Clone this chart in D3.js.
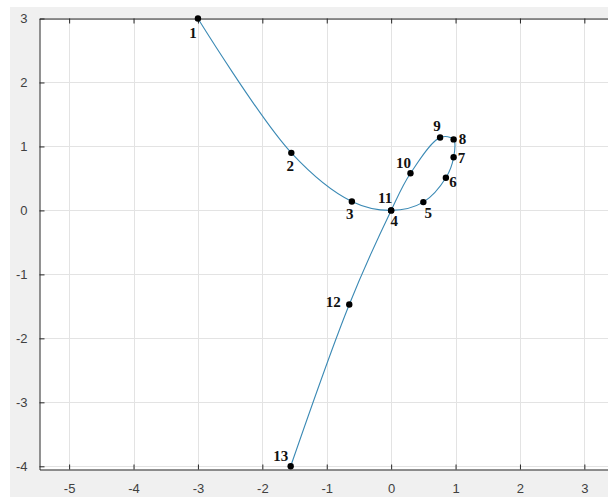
<!DOCTYPE html>
<html>
<head>
<meta charset="utf-8">
<script src="https://cdn.jsdelivr.net/npm/d3@7"></script>
<style>
  body { margin: 0; background: #ffffff; }
</style>
</head>
<body>
<svg width="608" height="501"></svg>
<script>
// point data
let pointIds = [1, 2, 3, 4, 5, 6, 7, 8, 9, 10, 11, 12, 13]
let xValues = [-3, -1.55, -0.61, 0, 0.5, 0.85, 0.97, 0.97, 0.76, 0.30, 0, -0.65, -1.56]
let yValues = [3, 0.90, 0.14, 0, 0.13, 0.51, 0.83, 1.11, 1.14, 0.58, 0, -1.47, -4.0]
let xTicks = [-5, -4, -3, -2, -1, 0, 1, 2, 3]
let yTicks = [-4, -3, -2, -1, 0, 1, 2, 3]

// where each number sits next to its dot (px)
let labelOffsets = [[-5, 14], [-1, 13], [-2, 13], [3, 11], [5, 11], [7, 4], [8, 1], [9, 0],
                    [-3, -11], [-7, -10], [-6, -12], [-16, -2], [-10, -10]]

var svg = d3.select("svg")
var box = {left: 39.5, top: 18.5, bottom: 469.5, right: 623}

// grey figure background (the screenshot has a thin white border left and top)
svg.append("rect").attr("x", 10).attr("y", 7).attr("width", 598).attr("height", 490).attr("fill", "#f0f0f0")
svg.append("rect").attr("x", box.left).attr("y", box.top)
    .attr("width", box.right - box.left).attr("height", box.bottom - box.top).attr("fill", "#ffffff")

var xScale = d3.scaleLinear().domain([-5.46, 3.6]).range([box.left, box.right])
var yScale = d3.scaleLinear().domain([-4.05, 3]).range([box.bottom, box.top])

// gridlines
var grid = svg.append("g").attr("id", "grid")
grid.selectAll("line.gx").data(xTicks).join("line").attr("class", "gx")
    .attr("x1", d => Math.round(xScale(d)) + 0.5).attr("x2", d => Math.round(xScale(d)) + 0.5)
    .attr("y1", box.top).attr("y2", box.bottom)
    .attr("stroke", "#e3e3e3").attr("stroke-width", 1)
grid.selectAll("line.gy").data(yTicks).join("line").attr("class", "gy")
    .attr("y1", d => Math.round(yScale(d)) + 0.5).attr("y2", d => Math.round(yScale(d)) + 0.5)
    .attr("x1", box.left).attr("x2", box.right)
    .attr("stroke", "#e3e3e3").attr("stroke-width", 1)

// axes, matlab style: ticks inward, box on, plain hyphen minus
var fmt = d => String(d)
var xAxisB = d3.axisBottom(xScale).tickValues(xTicks).tickFormat(fmt).tickSizeInner(-5).tickSizeOuter(0).tickPadding(14)
var xAxisT = d3.axisTop(xScale).tickValues(xTicks).tickSizeInner(-5).tickSizeOuter(0).tickFormat("")
var yAxisL = d3.axisLeft(yScale).tickValues(yTicks).tickFormat(fmt).tickSizeInner(-5).tickSizeOuter(0).tickPadding(12)

svg.append("g").attr("id", "xaxis").attr("transform", "translate(0," + box.bottom + ")").call(xAxisB)
svg.append("g").attr("id", "xaxistop").attr("transform", "translate(0," + box.top + ")").call(xAxisT)
svg.append("g").attr("id", "yaxis").attr("transform", "translate(" + box.left + ",0)").call(yAxisL)

svg.selectAll("#xaxis path, #xaxistop path, #yaxis path").attr("stroke", "#262626").attr("stroke-width", 1)
svg.selectAll("#xaxis line, #xaxistop line, #yaxis line").attr("stroke", "#262626")
svg.selectAll("#xaxis text, #yaxis text")
    .style("font-family", "'Liberation Sans', Arial, sans-serif")
    .style("font-size", "13px")
    .attr("fill", "#404040")

// the spline through the points (centripetal, keeps long spans straight)
var pts = pointIds.map((id, i) => ({id: id, x: xValues[i], y: yValues[i]}))
svg.append("path").datum(pts)
    .attr("fill", "none")
    .attr("stroke", "#3a89b4")
    .attr("stroke-width", 1.1)
    .attr("d", d3.line().x(d => xScale(d.x)).y(d => yScale(d.y)).curve(d3.curveCatmullRom.alpha(0.5)))

svg.append("g").selectAll("circle").data(pts).join("circle")
    .attr("cx", d => xScale(d.x)).attr("cy", d => yScale(d.y))
    .attr("r", 3.2).attr("fill", "#000000")

svg.append("g").selectAll("text").data(pts).join("text")
    .attr("x", (d, i) => xScale(d.x) + labelOffsets[i][0])
    .attr("y", (d, i) => yScale(d.y) + labelOffsets[i][1])
    .attr("text-anchor", "middle")
    .attr("dominant-baseline", "central")
    .style("font-family", "'Liberation Serif', 'Times New Roman', serif")
    .style("font-weight", "bold")
    .style("font-size", "15px")
    .attr("fill", "#111111")
    .text(d => d.id)
</script>
</body>
</html>
